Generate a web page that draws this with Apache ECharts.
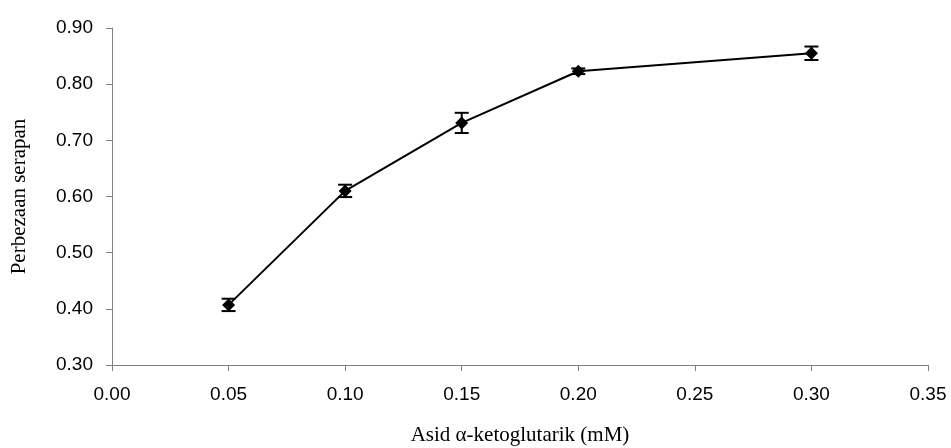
<!DOCTYPE html>
<html>
<head>
<meta charset="utf-8">
<script src="https://cdn.jsdelivr.net/npm/echarts@6/dist/echarts.min.js"></script>
<style>html,body{margin:0;padding:0;background:#fff;}#c{width:951px;height:448px;}</style>
</head>
<body>
<div id="c"></div>
<script>
var xValues = [0.05, 0.10, 0.15, 0.20, 0.30];
var yValues = [0.407, 0.610, 0.731, 0.823, 0.855];
var yErrors = [0.011, 0.011, 0.018, 0.005, 0.012];
var xAxisName = 'Asid \u03B1-ketoglutarik (mM)';
var yAxisName = 'Perbezaan serapan';

var lineData = xValues.map(function (x, i) { return [x, yValues[i]]; });
var errData = xValues.map(function (x, i) { return [x, yValues[i] - yErrors[i], yValues[i] + yErrors[i]]; });

var chart = echarts.init(document.getElementById('c'));
chart.setOption({
  backgroundColor: '#fff',
  animation: false,
  grid: { left: 112, right: 23, top: 28, bottom: 83, containLabel: false, outerBoundsMode: 'none' },
  xAxis: {
    type: 'value', min: 0, max: 0.35, interval: 0.05,
    name: xAxisName, nameLocation: 'middle', nameGap: 60,
    nameTextStyle: { fontFamily: 'Liberation Serif', fontSize: 21, color: '#000' },
    axisLine: { show: true, onZero: false, lineStyle: { color: '#808080', width: 1 } },
    axisTick: { show: true, length: 6, lineStyle: { color: '#808080' } },
    axisLabel: { fontFamily: 'Liberation Sans', fontSize: 19, color: '#000', margin: 20,
      formatter: function (v) { return v.toFixed(2); } },
    splitLine: { show: false }
  },
  yAxis: {
    type: 'value', min: 0.3, max: 0.9, interval: 0.1,
    name: yAxisName, nameLocation: 'middle', nameGap: 82, nameRotate: 90,
    nameTextStyle: { fontFamily: 'Liberation Serif', fontSize: 21, color: '#000' },
    axisLine: { show: true, lineStyle: { color: '#808080', width: 1 } },
    axisTick: { show: true, length: 6, lineStyle: { color: '#808080' } },
    axisLabel: { fontFamily: 'Liberation Sans', fontSize: 19, color: '#000', margin: 19,
      formatter: function (v) { return v.toFixed(2); } },
    splitLine: { show: false }
  },
  series: [
    {
      type: 'line', data: lineData,
      lineStyle: { color: '#000', width: 2 },
      itemStyle: { color: '#000' },
      symbol: 'diamond', symbolSize: 13, z: 3
    },
    {
      type: 'custom', data: errData, z: 4,
      renderItem: function (params, api) {
        var x = api.value(0);
        var lo = api.coord([x, api.value(1)]);
        var hi = api.coord([x, api.value(2)]);
        var w = 7;
        var st = { stroke: '#000', lineWidth: 2 };
        return {
          type: 'group',
          children: [
            { type: 'line', shape: { x1: lo[0], y1: lo[1], x2: hi[0], y2: hi[1] }, style: st },
            { type: 'line', shape: { x1: lo[0] - w, y1: lo[1], x2: lo[0] + w, y2: lo[1] }, style: st },
            { type: 'line', shape: { x1: hi[0] - w, y1: hi[1], x2: hi[0] + w, y2: hi[1] }, style: st }
          ]
        };
      }
    }
  ]
});
</script>
</body>
</html>
